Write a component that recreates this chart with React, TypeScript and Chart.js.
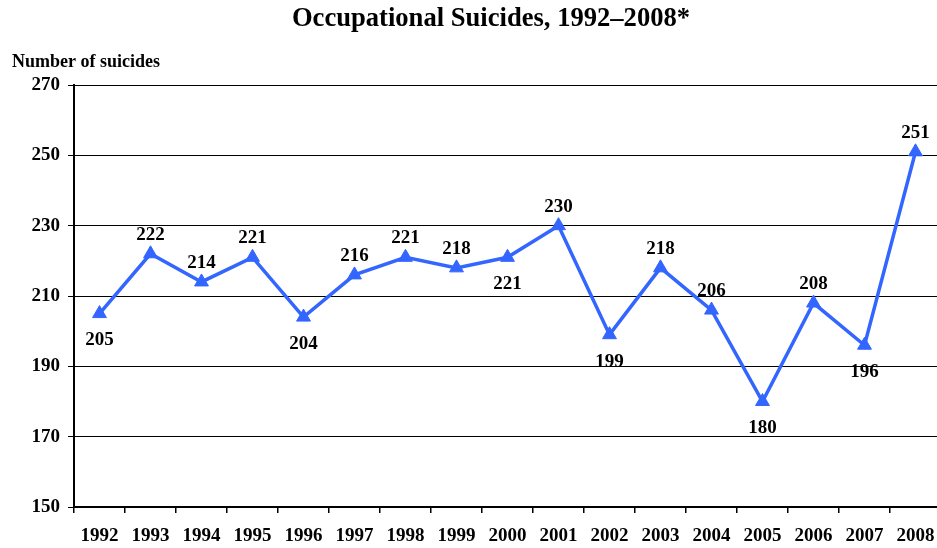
import React, { useEffect, useRef } from "react";
import { Chart, registerables } from "chart.js";

Chart.register(...registerables);

const years = ["1992","1993","1994","1995","1996","1997","1998","1999","2000","2001","2002","2003","2004","2005","2006","2007","2008"];
const suicides = [205, 222, 214, 221, 204, 216, 221, 218, 221, 230, 199, 218, 206, 180, 208, 196, 251];
const labelSide = ["below","above","above","above","below","above","above","above","below","above","below","above","above","below","above","below","above"];
const yTicks = [150, 170, 190, 210, 230, 250, 270];

const titleText = "Occupational Suicides, 1992\u20132008*";
const yAxisTitle = "Number of suicides";

const FONT = "'Liberation Serif', 'Times New Roman', serif";
const LINE_COLOR = "#3366FF";

export default function App() {
  const ref = useRef<HTMLCanvasElement | null>(null);
  useEffect(() => {
    if (!ref.current) return;
    const overlay = {
      id: "overlay",
      afterDatasetsDraw(chart: any) {
        const ctx = chart.ctx;
        const meta = chart.getDatasetMeta(0);
        ctx.save();
        ctx.fillStyle = "#000";
        ctx.textAlign = "center";
        ctx.textBaseline = "middle";
        ctx.font = `bold 19px ${FONT}`;
        meta.data.forEach((pt: any, i: number) => {
          const dy = labelSide[i] === "above" ? -19 : 27;
          ctx.fillText(String(suicides[i]), pt.x, pt.y + dy);
        });
        ctx.restore();
      },
      afterDraw(chart: any) {
        const ctx = chart.ctx;
        ctx.save();
        ctx.fillStyle = "#000";
        ctx.textBaseline = "middle";
        ctx.textAlign = "center";
        ctx.font = `bold 26.6px ${FONT}`;
        ctx.fillText(titleText, 491, 19);
        ctx.textAlign = "left";
        ctx.font = `bold 18px ${FONT}`;
        ctx.fillText(yAxisTitle, 12, 62);
        ctx.restore();
      },
    };
    const chart = new Chart(ref.current, {
      type: "line",
      data: {
        labels: years,
        datasets: [
          {
            data: suicides,
            borderColor: LINE_COLOR,
            backgroundColor: LINE_COLOR,
            borderWidth: 3.5,
            pointStyle: "triangle",
            pointRadius: 8,
            pointBackgroundColor: LINE_COLOR,
            pointBorderColor: LINE_COLOR,
            pointBorderWidth: 1,
            tension: 0,
          },
        ],
      },
      options: {
        animation: false,
        responsive: false,
        maintainAspectRatio: false,
        layout: { padding: { top: 85, left: 0, right: 1, bottom: 0 } },
        plugins: { legend: { display: false }, title: { display: false }, tooltip: { enabled: false } },
        scales: {
          x: {
            type: "category",
            offset: true,
            grid: { offset: true, drawOnChartArea: false, color: "#000", lineWidth: 1.5, tickLength: 6, tickColor: "#000" },
            border: { color: "#000", width: 2 },
            ticks: { color: "#000", font: { family: FONT, size: 19, weight: "bold" }, padding: 12, maxRotation: 0, autoSkip: false },
            afterFit(scale: any) { scale.height = 41; },
          },
          y: {
            min: 150,
            max: 270,
            afterBuildTicks(scale: any) { scale.ticks = yTicks.map((v) => ({ value: v })); },
            grid: { color: "#000", lineWidth: 1, tickLength: 6, tickColor: "#000" },
            border: { color: "#000", width: 2 },
            ticks: { color: "#000", font: { family: FONT, size: 19, weight: "bold" }, padding: 8 },
            afterFit(scale: any) { scale.width = 74; },
          },
        },
      },
      plugins: [overlay],
    });
    return () => chart.destroy();
  }, []);
  return (
    <div style={{ position: "fixed", left: 0, top: 0, width: 937, height: 548, overflow: "hidden", background: "#fff" }}>
      <canvas ref={ref} width={950} height={548} style={{ position: "absolute", left: 0, top: 0, width: 950, height: 548 }} />
    </div>
  );
}
